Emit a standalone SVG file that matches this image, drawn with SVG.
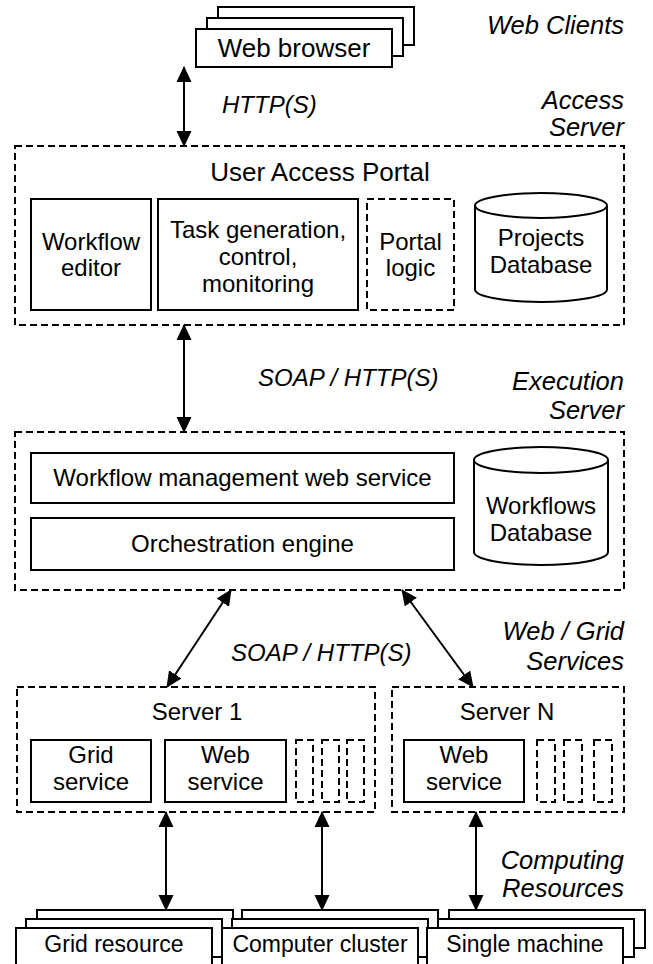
<svg xmlns="http://www.w3.org/2000/svg" width="653" height="964" viewBox="0 0 653 964">
<style>
text{font-family:"Liberation Sans",Arial,sans-serif;font-size:24px;fill:#000}
.c{text-anchor:middle}
.lab{font-style:italic;text-anchor:end;font-size:25.5px}
.proto{font-style:italic;font-size:24px}
.big{font-size:26px}
.res{font-size:23px}
.box{fill:#fff;stroke:#000;stroke-width:2}
.dash{fill:none;stroke:#000;stroke-width:2;stroke-dasharray:7 4}
.conn{stroke:#000;stroke-width:2;fill:none;marker-start:url(#ah);marker-end:url(#ah)}
</style>
<defs>
<marker id="ah" markerUnits="userSpaceOnUse" markerWidth="16" markerHeight="16" viewBox="0 0 16 16" refX="15" refY="8" orient="auto-start-reverse"><path d="M0,0.5 L16,8 L0,15.5 z" fill="#000"/></marker>
</defs>
<rect width="653" height="964" fill="#fff"/>

<g id="labels">
<text class="lab" x="624" y="34">Web Clients</text>
<text class="lab" x="624" y="109">Access</text>
<text class="lab" x="624" y="136">Server</text>
<text class="lab" x="624" y="390">Execution</text>
<text class="lab" x="624" y="419">Server</text>
<text class="lab" x="624" y="640">Web / Grid</text>
<text class="lab" x="624" y="670">Services</text>
<text class="lab" x="624" y="869">Computing</text>
<text class="lab" x="624" y="897">Resources</text>
<text class="proto" x="222" y="113">HTTP(S)</text>
<text class="proto" x="258" y="386">SOAP / HTTP(S)</text>
<text class="proto" x="231" y="661">SOAP / HTTP(S)</text>
</g>

<g id="web-browser">
<rect class="box" x="218" y="7" width="196" height="38"/>
<rect class="box" x="207" y="18" width="196" height="38"/>
<rect class="box" x="196" y="29" width="196" height="38"/>
<text class="c big" x="294" y="57">Web browser</text>
</g>

<g id="access-server">
<rect class="dash" x="15" y="146" width="609" height="179"/>
<text class="c big" x="320" y="181">User Access Portal</text>
</g>
<g id="workflow-editor">
<rect class="box" x="31" y="199" width="120" height="111"/>
<text class="c" x="91" y="250">Workflow</text>
<text class="c" x="91" y="276">editor</text>
</g>
<g id="task-generation">
<rect class="box" x="158" y="199" width="200" height="111"/>
<text class="c" x="258" y="238">Task generation,</text>
<text class="c" x="258" y="265">control,</text>
<text class="c" x="258" y="292">monitoring</text>
</g>
<g id="portal-logic">
<rect class="dash" x="367" y="199" width="87" height="111"/>
<text class="c" x="410.5" y="250">Portal</text>
<text class="c" x="410.5" y="276">logic</text>
</g>
<g id="projects-db">
<path class="box" d="M475,205.5 A66,12.5 0 0 1 607,205.5 L607,289.5 A66,12.5 0 0 1 475,289.5 Z"/>
<path class="box" style="fill:none" d="M475,205.5 A66,12.5 0 0 0 607,205.5"/>
<text class="c" x="541" y="246">Projects</text>
<text class="c" x="541" y="273">Database</text>
</g>

<g id="execution-server">
<rect class="dash" x="15" y="432" width="609" height="158"/>
</g>
<g id="workflow-mgmt">
<rect class="box" x="31" y="453" width="423" height="50"/>
<text class="c" x="242.5" y="486">Workflow management web service</text>
</g>
<g id="orchestration">
<rect class="box" x="31" y="518" width="423" height="52"/>
<text class="c" x="242.5" y="552">Orchestration engine</text>
</g>
<g id="workflows-db">
<path class="box" d="M474,460 A67,13 0 0 1 608,460 L608,552 A67,13 0 0 1 474,552 Z"/>
<path class="box" style="fill:none" d="M474,460 A67,13 0 0 0 608,460"/>
<text class="c" x="541" y="514">Workflows</text>
<text class="c" x="541" y="541">Database</text>
</g>

<g id="server-1">
<rect class="dash" x="17" y="687" width="358" height="125"/>
<text class="c" x="197" y="720">Server 1</text>
</g>
<g id="grid-service">
<rect class="box" x="31" y="740" width="120" height="62"/>
<text class="c" x="91" y="763">Grid</text>
<text class="c" x="91" y="790">service</text>
</g>
<g id="web-service-1">
<rect class="box" x="165" y="740" width="121" height="62"/>
<text class="c" x="225.5" y="763">Web</text>
<text class="c" x="225.5" y="790">service</text>
</g>
<g id="more-services-1">
<rect class="dash" x="296" y="740" width="17" height="62"/>
<rect class="dash" x="322" y="740" width="17" height="62"/>
<rect class="dash" x="347" y="740" width="17" height="62"/>
</g>
<g id="server-n">
<rect class="dash" x="392" y="687" width="232" height="125"/>
<text class="c" x="507" y="720">Server N</text>
</g>
<g id="web-service-n">
<rect class="box" x="404" y="740" width="120" height="62"/>
<text class="c" x="464" y="763">Web</text>
<text class="c" x="464" y="790">service</text>
</g>
<g id="more-services-n">
<rect class="dash" x="537" y="740" width="18" height="62"/>
<rect class="dash" x="564" y="740" width="18" height="62"/>
<rect class="dash" x="594" y="740" width="18" height="62"/>
</g>

<g id="grid-resource">
<rect class="box" x="37" y="910" width="196" height="38"/>
<rect class="box" x="26" y="919" width="196" height="38"/>
<rect class="box" x="16" y="928" width="196" height="38"/>
<text class="c res" x="114" y="952">Grid resource</text>
</g>
<g id="computer-cluster">
<rect class="box" x="242" y="910" width="196" height="38"/>
<rect class="box" x="232" y="919" width="196" height="38"/>
<rect class="box" x="222" y="928" width="196" height="38"/>
<text class="c res" x="320" y="952">Computer cluster</text>
</g>
<g id="single-machine">
<rect class="box" x="449" y="910" width="196" height="38"/>
<rect class="box" x="438" y="919" width="196" height="38"/>
<rect class="box" x="427" y="928" width="196" height="38"/>
<text class="c res" x="525" y="952">Single machine</text>
</g>

<g id="connectors">
<line class="conn" x1="184" y1="67" x2="184" y2="146"/>
<line class="conn" x1="184" y1="325" x2="184" y2="432"/>
<line class="conn" x1="231" y1="590" x2="167" y2="687"/>
<line class="conn" x1="402" y1="590" x2="473" y2="687"/>
<line class="conn" x1="166" y1="812" x2="166" y2="910"/>
<line class="conn" x1="322" y1="812" x2="322" y2="910"/>
<line class="conn" x1="476" y1="812" x2="476" y2="910"/>
</g>
</svg>
